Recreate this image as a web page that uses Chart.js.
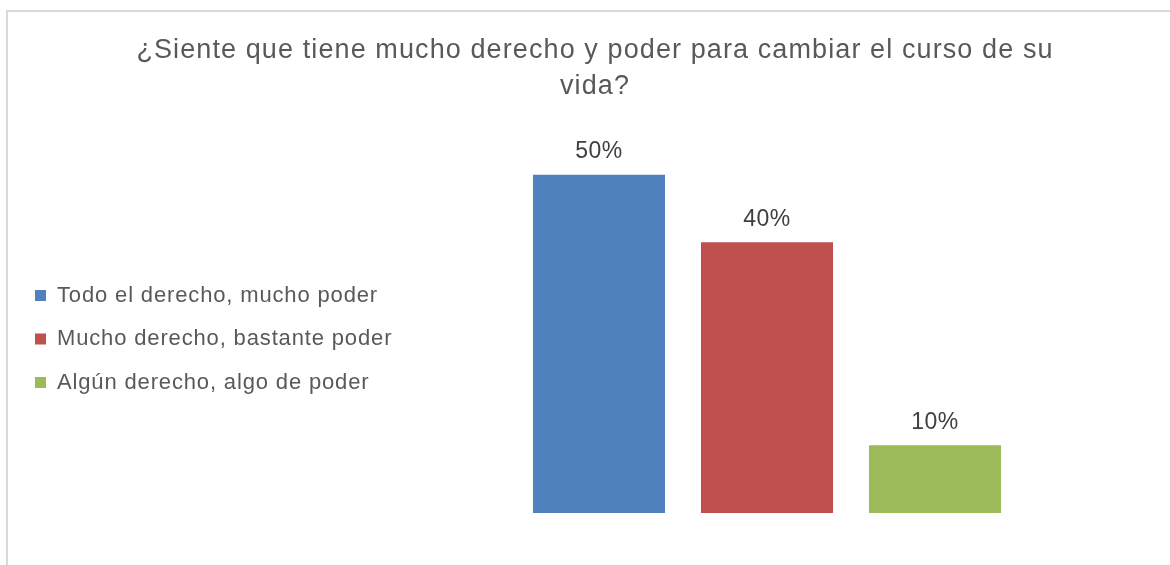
<!DOCTYPE html>
<html>
<head>
<meta charset="utf-8">
<script src="https://cdn.jsdelivr.net/npm/chart.js@4"></script>
<style>
  html, body { margin: 0; padding: 0; background: #fff; overflow: hidden; }
  #wrap { position: relative; width: 1170px; height: 565px; overflow: hidden; }
  #frame { position: absolute; left: 6px; top: 10px; width: 1300px; height: 700px;
           border: 2px solid #d9d9d9; pointer-events: none; }
  canvas { position: absolute; left: 0; top: 0; }
</style>
</head>
<body>
<div id="wrap">
  <canvas id="chart" width="1190" height="565"></canvas>
  <div id="frame"></div>
</div>
<script>
// chart data
const titleLines = ["¿Siente que tiene mucho derecho y poder para cambiar el curso de su", "vida?"];
const categories = ["Todo el derecho, mucho poder", "Mucho derecho, bastante poder", "Algún derecho, algo de poder"];
const values = [50, 40, 10];
const barColors = ["#4F81BD", "#C0504D", "#9BBB59"];

const fontFamily = '"Liberation Sans", Arial, sans-serif';

// the source text is set a bit loose, widen letters a little
const spacing = {
  id: "spacing",
  beforeLayout(chart) {
    chart.ctx.letterSpacing = "1.1px";
  },
  beforeDraw(chart) {
    chart.ctx.letterSpacing = "1.1px";
  },
};

// percentage labels above each bar
const valueLabels = {
  id: "valueLabels",
  afterDatasetsDraw(chart) {
    const ctx = chart.ctx;
    const meta = chart.getDatasetMeta(0);
    ctx.save();
    ctx.letterSpacing = "0.5px";
    ctx.font = "23px " + fontFamily;
    ctx.fillStyle = "#404040";
    ctx.textAlign = "center";
    ctx.textBaseline = "middle";
    meta.data.forEach((bar, i) => {
      ctx.fillText(values[i] + "%", bar.x, bar.y - 23);
    });
    ctx.restore();
  },
};

// fixed legend width so the plot area lines up, tighter letters in the legend
const legendTweaks = {
  id: "legendTweaks",
  afterInit(chart) {
    const legend = chart.legend;
    const fit = legend.fit.bind(legend);
    const draw = legend.draw.bind(legend);
    legend.fit = function () {
      const prev = chart.ctx.letterSpacing;
      chart.ctx.letterSpacing = "0.85px";
      fit();
      chart.ctx.letterSpacing = prev;
      this.width = 501.5;
    };
    legend.draw = function () {
      const prev = chart.ctx.letterSpacing;
      chart.ctx.letterSpacing = "0.85px";
      draw();
      chart.ctx.letterSpacing = prev;
    };
  },
};

new Chart(document.getElementById("chart"), {
  type: "bar",
  data: {
    labels: categories,
    datasets: [
      {
        data: values,
        backgroundColor: barColors,
        borderWidth: 0,
        categoryPercentage: 1,
        barPercentage: 0.786,
      },
    ],
  },
  options: {
    responsive: false,
    animation: false,
    layout: { padding: { left: 13.5, right: 13.5, top: 0, bottom: 52 } },
    scales: {
      x: { display: false },
      y: {
        position: "right",
        min: 0,
        max: 60,
        ticks: { display: false },
        grid: { display: false },
        border: { display: false },
        afterFit(scale) {
          scale.width = 157.5;
        },
      },
    },
    plugins: {
      tooltip: { enabled: false },
      title: {
        display: true,
        text: titleLines,
        color: "#595959",
        font: { family: fontFamily, size: 27, weight: "normal", lineHeight: 36 / 27 },
        padding: { top: 33, bottom: 2 },
      },
      legend: {
        position: "left",
        align: "center",
        title: { display: true, text: "", padding: 75.3 },
        labels: {
          boxWidth: 11,
          boxHeight: 11,
          padding: 21.5,
          color: "#595959",
          font: { family: fontFamily, size: 22 },
          generateLabels: () =>
            categories.map((c, i) => ({
              text: c,
              fillStyle: barColors[i],
              strokeStyle: barColors[i],
              fontColor: "#595959",
              lineWidth: 0,
              hidden: false,
              index: i,
            })),
        },
      },
    },
  },
  plugins: [spacing, valueLabels, legendTweaks],
});
</script>
</body>
</html>
